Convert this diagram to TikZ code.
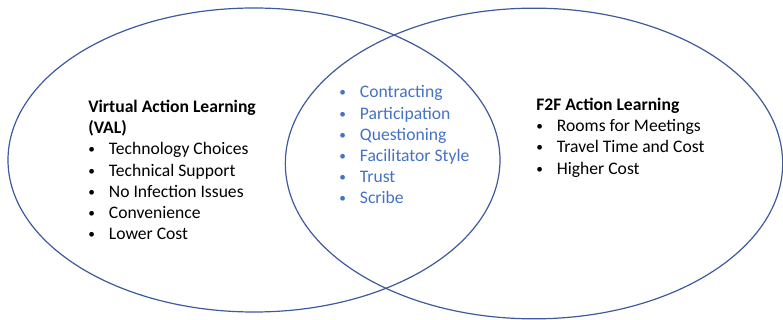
\documentclass[tikz,border=0pt]{standalone}
\usepackage{fontspec}
\setmainfont{Carlito}
\usetikzlibrary{shapes.geometric, positioning}
\definecolor{ringblue}{RGB}{62,90,156}
\definecolor{textblue}{RGB}{68,114,196}
\newcommand{\bitem}[1]{\makebox[15.5pt][l]{\raisebox{0.8pt}{\fontsize{10}{10}\selectfont\textbullet}}#1}

\begin{document}
\begin{tikzpicture}[x=0.75pt,y=-0.75pt,
    ring/.style={ellipse,draw=ringblue,line width=0.9pt,inner sep=0pt},
    block/.style={align=left,inner sep=0pt,anchor=base west,font=\fontsize{13.2}{15.9}\selectfont}]
    \useasboundingbox (0,0) rectangle (783,320);

    % Ellissi
    \node[ring,minimum width=369pt,minimum height=228pt] (val) at (254,160) {};
    \node[ring,minimum width=373pt,minimum height=233pt] (f2f) at (534,163.5) {};

    % Testi (ancorati alla linea di base dell'ultima riga)
    \node[block] (valtext) at (88,239.7) {\textbf{Virtual Action Learning}\\\textbf{(VAL)}\\
        \bitem{Technology Choices}\\\bitem{Technical Support}\\\bitem{No Infection Issues}\\
        \bitem{Convenience}\\\bitem{Lower Cost}};
    \node[block,text=textblue] (common) at (339,204) {\bitem{Contracting}\\\bitem{Participation}\\
        \bitem{Questioning}\\\bitem{Facilitator Style}\\\bitem{Trust}\\\bitem{Scribe}};
    \node[block] (f2ftext) at (536,174.1) {\textbf{F2F Action Learning}\\
        \bitem{Rooms for Meetings}\\\bitem{Travel Time and Cost}\\\bitem{Higher Cost}};
\end{tikzpicture}
\end{document}
